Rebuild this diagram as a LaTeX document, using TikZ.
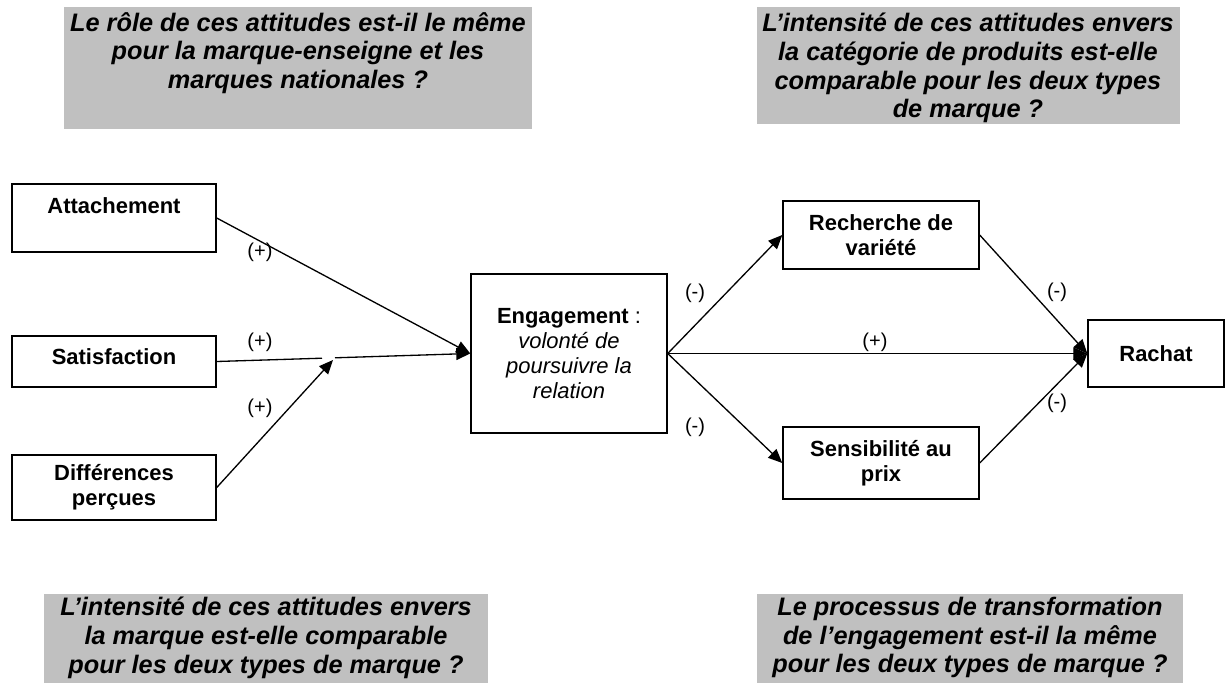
\documentclass[tikz,border=0pt]{standalone}
\usepackage{fontspec}
\setmainfont{Liberation Sans}
\usetikzlibrary{arrows.meta}
\definecolor{boxgray}{RGB}{192,192,192}
\newcommand\conceptfont{\fontsize{12.5}{14.2}\selectfont\bfseries}
\newcommand\questfont{\fontsize{14.4}{16.3}\selectfont\bfseries\itshape}
\newcommand\effectfont{\fontsize{11.4}{13}\selectfont}
\tikzset{
	concept/.style={draw, line width=0.85pt, align=center, font=\conceptfont, inner sep=0pt},
	question/.style={align=center, font=\questfont, inner sep=0pt, anchor=north},
	effect/.style={font=\effectfont, inner sep=0pt},
	link/.style={line width=0.75pt, -{Triangle[length=0.28cm, width=0.24cm]}},
}

\begin{document}
\begin{tikzpicture}[x=0.02cm, y=-0.02cm]
		%%%%% START %%%%%
		\useasboundingbox (0, 0) rectangle (1228, 683);
		
		\fill[boxgray] (64, 7) rectangle (532, 129);
		\node[question] (q1) at (298, 12) {Le rôle de ces attitudes est-il le même\\pour la marque-enseigne et les\\marques nationales ?};
		
		\fill[boxgray] (757, 7) rectangle (1180, 124);
		\node[question] (q2) at (968, 13) {L’intensité de ces attitudes envers\\la catégorie de produits est-elle\\comparable pour les deux types\\de marque ?};
		
		\fill[boxgray] (44, 594) rectangle (488, 683);
		\node[question] (q3) at (266, 597) {L’intensité de ces attitudes envers\\la marque est-elle comparable\\pour les deux types de marque ?};
		
		\fill[boxgray] (757, 594) rectangle (1183, 683);
		\node[question] (q4) at (970, 597) {Le processus de transformation\\de l’engagement est-il la même\\pour les deux types de marque ?};
		
		\node[concept, minimum width=4.08cm, minimum height=1.36cm, text depth=0.48cm] (att) at (114, 218) {Attachement};
		\node[concept, minimum width=4.08cm, minimum height=1.02cm, text depth=0.18cm] (sat) at (114, 361.5) {Satisfaction};
		\node[concept, minimum width=4.08cm, minimum height=1.30cm] (dif) at (114, 487.5) {Différences\\perçues};
		
		\node[concept, minimum width=3.92cm, minimum height=3.18cm] (eng) at (569, 353.5) {Engagement {\mdseries :}\\{\mdseries\itshape volonté de}\\{\mdseries\itshape poursuivre la}\\{\mdseries\itshape relation}};
		
		\node[concept, minimum width=3.92cm, minimum height=1.36cm] (rech) at (881, 235) {Recherche de\\variété};
		\node[concept, minimum width=3.92cm, minimum height=1.44cm] (sens) at (881, 463) {Sensibilité au\\prix};
		\node[concept, minimum width=2.72cm, minimum height=1.34cm] (rachat) at (1156, 353.5) {Rachat};
		
		% left side
		\coordinate (gapL) at (322, 358.2);
		\coordinate (gapR) at (335, 357.8);
		\coordinate (meet) at (333, 360);
		\draw[link] (att.east) -- (eng.west);
		\draw[line width=0.75pt] (sat.east) -- (gapL);
		\draw[link] (gapR) -- (eng.west);
		\draw[link] (dif.east) -- (meet);
		\node[effect] (e1) at (260, 252) {(+)};
		\node[effect] (e2) at (260, 342) {(+)};
		\node[effect] (e3) at (260, 408) {(+)};
		
		% right side
		\draw[link] (eng.east) -- (rech.west);
		\draw[link] (eng.east) -- (sens.west);
		\draw[link] (eng.east) -- (rachat.west);
		\draw[link] (rech.east) -- (rachat.west);
		\draw[link] (sens.east) -- (rachat.west);
		\node[effect] (e4) at (695, 293) {(-)};
		\node[effect] (e5) at (695, 427) {(-)};
		\node[effect] (e6) at (875, 342) {(+)};
		\node[effect] (e7) at (1057, 292) {(-)};
		\node[effect] (e8) at (1057, 403) {(-)};
		%%%%% END %%%%%
\end{tikzpicture}
\end{document}
